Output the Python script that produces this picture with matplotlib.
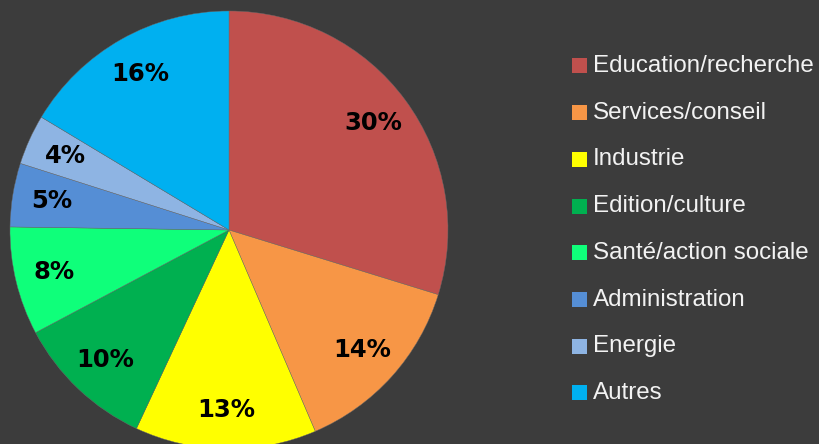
import matplotlib
matplotlib.use("Agg")
import matplotlib.pyplot as plt
from matplotlib.patches import Rectangle

plt.rcParams.update({
    "font.family": ["Liberation Sans", "DejaVu Sans"],
    "figure.dpi": 100,
})

# sector shares (%), shown rounded
CATEGORIES = [
    "Education/recherche",
    "Services/conseil",
    "Industrie",
    "Edition/culture",
    "Santé/action sociale",
    "Administration",
    "Energie",
    "Autres",
]
SHARES = [29.8, 13.8, 13.4, 10.3, 8.0, 4.7, 3.7, 16.4]
COLORS = ["#C0504D", "#F79646", "#FFFF00", "#00B050",
          "#0FFF7A", "#558ED5", "#8EB4E3", "#00B0F0"]

BG = "#3c3c3c"
W, H = 819, 444

fig = plt.figure(figsize=(W / 100, H / 100), facecolor=BG)

# pie centre at (229, 230) px from top-left, radius 219 px
cx, cy, r = 229, 230, 219
ax = fig.add_axes([(cx - r) / W, (H - cy - r) / H, 2 * r / W, 2 * r / H])
ax.set_facecolor(BG)
ax.axis("off")

wedges, texts, autotexts = ax.pie(
    SHARES,
    colors=COLORS,
    startangle=90,
    counterclock=False,
    radius=1.0,
    autopct="%.0f%%",
    pctdistance=0.82,
    wedgeprops={"linewidth": 0.3, "edgecolor": "#6a6a6a"},
    textprops={"fontsize": 17.5, "fontweight": "bold", "color": "black",
               "family": "DejaVu Sans"},
)
ax.set_xlim(-1, 1)
ax.set_ylim(-1, 1)
for w in wedges:
    w.set_clip_on(False)

# legend, drawn by hand to match spacing
x_box, y_first, step, box = 572, 66, 46.7, 15
for i, (label, color) in enumerate(zip(CATEGORIES, COLORS)):
    yc = y_first + i * step
    fig.patches.append(Rectangle(
        (x_box / W, (H - yc - box / 2) / H), box / W, box / H,
        transform=fig.transFigure, facecolor=color, edgecolor="none"))
    fig.text((x_box + box + 6) / W, (H - yc) / H, label,
             fontsize=17.4, color="#f2f2f2", va="center", ha="left")

fig.savefig("out.png", dpi=100, facecolor=BG)
